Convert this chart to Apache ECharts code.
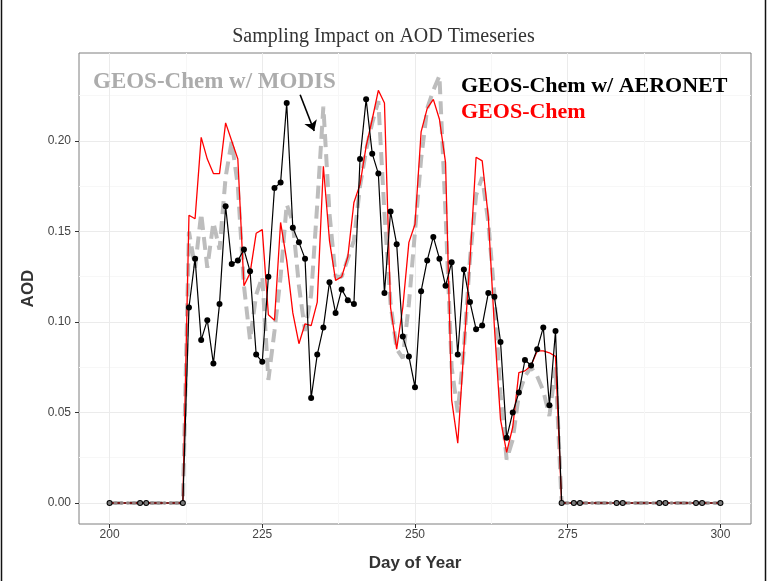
<!DOCTYPE html>
<html>
<head>
<meta charset="utf-8">
<script src="https://cdn.jsdelivr.net/npm/echarts@6/dist/echarts.min.js"></script>
<style>
  html, body { margin: 0; padding: 0; background: #fff; }
  #chart { width: 767px; height: 581px; }
</style>
</head>
<body>
<div id="chart"></div>
<script>
// days of the model runs (daily output)
var modelDays = [
  200,201,202,203,204,205,206,207,208,209,210,211,
  212,213,214,215,216,217,218,219,220,221,222,223,224,225,226,227,228,229,230,
  231,232,233,234,235,236,237,238,239,240,241,242,243,244,245,246,247,248,249,250,
  251,252,253,254,255,256,257,258,259,260,261,262,263,264,265,266,267,268,269,270,
  271,272,273,274,275,276,277,278,279,280,281,282,283,284,285,286,287,288,289,290,
  291,292,293,294,295,296,297,298,299,300
];
// GEOS-Chem (red)
var geosAod = [
  0,0,0,0,0,0,0,0,0,0,0,0,
  0,0.159,0.157,0.202,0.190,0.182,0.182,0.210,0.200,0.190,0.120,0.127,0.149,0.151,0.104,0.101,0.155,0.134,0.105,
  0.088,0.099,0.098,0.111,0.186,0.145,0.123,0.125,0.136,0.166,0.176,0.197,0.212,0.228,0.221,0.108,0.085,0.108,0.144,0.154,
  0.205,0.218,0.223,0.212,0.188,0.057,0.033,0.085,0.134,0.191,0.189,0.158,0.097,0.046,0.028,0.042,0.072,0.073,0.076,0.084,
  0.084,0.083,0.081,0,0,0,0,0,0,0,0,0,0,0,0,0,0,0,0,0,
  0,0,0,0,0,0,0,0,0,0
];
// GEOS-Chem sampled like MODIS (grey dashed)
var modisAod = [
  0,0,0,0,0,0,0,0,0,0,0,0,
  0,0.150,0.130,0.160,0.130,0.155,0.140,0.180,0.200,0.175,0.120,0.090,0.115,0.125,0.068,0.095,0.125,0.165,0.155,
  0.120,0.095,0.115,0.165,0.219,0.160,0.125,0.125,0.135,0.145,0.175,0.195,0.210,0.222,0.160,0.110,0.085,0.080,0.110,0.150,
  0.190,0.218,0.228,0.236,0.160,0.075,0.050,0.085,0.135,0.170,0.180,0.155,0.115,0.060,0.024,0.035,0.060,0.070,0.075,0.070,
  0.062,0.048,0.075,0,0,0,0,0,0,0,0,0,0,0,0,0,0,0,0,0,
  0,0,0,0,0,0,0,0,0,0
];
// GEOS-Chem sampled like AERONET (black, with points)
var aeronetDays = [
  200,205,206,
  212,213,214,215,216,217,218,219,220,221,222,223,224,225,226,227,228,229,230,
  231,232,233,234,235,236,237,238,239,240,241,242,243,244,245,246,247,248,249,250,
  251,252,253,254,255,256,257,258,259,260,261,262,263,264,265,266,267,268,269,270,
  271,272,273,274,
  276,277,283,284,290,291,296,297,300
];
var aeronetAod = [
  0,0,0,
  0,0.108,0.135,0.090,0.101,0.077,0.110,0.164,0.132,0.134,0.140,0.128,0.082,0.078,0.125,0.174,0.177,0.221,0.152,
  0.144,0.135,0.058,0.082,0.097,0.122,0.105,0.118,0.112,0.110,0.190,0.223,0.193,0.182,0.116,0.161,0.143,0.092,0.081,0.064,
  0.117,0.134,0.147,0.135,0.120,0.133,0.082,0.129,0.111,0.096,0.098,0.116,0.114,0.089,0.036,0.050,0.061,0.079,0.076,0.085,
  0.097,0.054,0.095,0,
  0,0,0,0,0,0,0,0,0
];
var xTicks = [200, 225, 250, 275, 300];
var xMinor = [212.5, 237.5, 262.5, 287.5];
var yTicks = [0, 0.05, 0.10, 0.15, 0.20];
var yMinor = [0.025, 0.075, 0.125, 0.175, 0.225];

function pairs(xs, ys) {
  return xs.map(function (x, i) { return [x, ys[i]]; });
}
var zeroModis = pairs(modelDays, modisAod).filter(function (p) { return p[1] === 0; });

var serif = '"Liberation Serif", "DejaVu Serif", serif';
var sans = '"Liberation Sans", Arial, sans-serif';

var chart = echarts.init(document.getElementById('chart'));
chart.setOption({
  animation: false,
  backgroundColor: '#fff',
  grid: {
    left: 79, right: 16, top: 53, bottom: 57,
    show: true, borderColor: '#7f7f7f', borderWidth: 1, backgroundColor: '#fff'
  },
  xAxis: [
    {
      type: 'value', min: 195, max: 305,
      name: 'Day of Year', nameLocation: 'middle', nameGap: 31,
      nameTextStyle: { fontFamily: sans, fontWeight: 'bold', fontSize: 17, color: '#333' },
      axisLine: { show: false, onZero: false },
      axisTick: { show: true, length: 4, customValues: xTicks, lineStyle: { color: '#333' } },
      axisLabel: { customValues: xTicks, fontFamily: sans, fontSize: 12, color: '#444', margin: 5 },
      splitLine: { show: true, lineStyle: { color: '#ebebeb', width: 1 } }
    },
    {
      type: 'value', min: 195, max: 305, position: 'top',
      axisLine: { show: false, onZero: false },
      axisTick: { show: false, customValues: xMinor },
      axisLabel: { show: false },
      splitLine: { show: true, lineStyle: { color: '#f7f7f7', width: 1 } }
    }
  ],
  yAxis: [
    {
      type: 'value', min: -0.0116, max: 0.2486,
      name: 'AOD', nameLocation: 'middle', nameGap: 38,
      nameTextStyle: { fontFamily: sans, fontWeight: 'bold', fontSize: 17, color: '#333' },
      axisLine: { show: false, onZero: false },
      axisTick: { show: true, length: 4, customValues: yTicks, lineStyle: { color: '#333' } },
      axisLabel: {
        customValues: yTicks, fontFamily: sans, fontSize: 12, color: '#444', margin: 8,
        formatter: function (v) { return v.toFixed(2); }
      },
      splitLine: { show: true, lineStyle: { color: '#ebebeb', width: 1 } }
    },
    {
      type: 'value', min: -0.0116, max: 0.2486, position: 'right',
      axisLine: { show: false, onZero: false },
      axisTick: { show: false, customValues: yMinor },
      axisLabel: { show: false },
      splitLine: { show: true, lineStyle: { color: '#f7f7f7', width: 1 } }
    }
  ],
  series: [
    {
      name: 'GEOS-Chem w/ MODIS', type: 'line', z: 2,
      data: pairs(modelDays, modisAod),
      showSymbol: false,
      lineStyle: { color: '#bdbdbd', width: 4, type: [13, 7] },
      markLine: {
        silent: true,
        symbol: ['none', 'arrow'], symbolSize: 10,
        label: { show: false },
        lineStyle: { color: '#000', width: 1.6, type: 'solid' },
        data: [[{ coord: [231.2, 0.2255] }, { coord: [233.5, 0.2055] }]]
      }
    },
    {
      name: 'GEOS-Chem', type: 'line', z: 3,
      data: pairs(modelDays, geosAod),
      showSymbol: false,
      lineStyle: { color: '#ff0000', width: 1.3 }
    },
    {
      name: 'GEOS-Chem w/ AERONET', type: 'line', z: 4,
      data: pairs(aeronetDays, aeronetAod),
      symbol: 'circle', symbolSize: 6,
      itemStyle: { color: '#000' },
      lineStyle: { color: '#000', width: 1.2 }
    },
    {
      name: 'MODIS zero days', type: 'scatter', z: 5,
      data: zeroModis,
      symbolSize: 4,
      itemStyle: { color: '#9a9a9a' }
    }
  ],
  graphic: [
    { type: 'text', left: 'center', top: 27, z: 100,
      style: { text: 'Sampling Impact on AOD Timeseries', font: 'normal 20px ' + serif, fill: '#333' } },
    { type: 'text', x: 93, y: 82, z: 100,
      style: { text: 'GEOS-Chem w/ MODIS', font: 'bold 23px ' + serif, fill: '#acacac', verticalAlign: 'middle' } },
    { type: 'text', x: 461, y: 86, z: 100,
      style: { text: 'GEOS-Chem w/ AERONET', font: 'bold 22px ' + serif, fill: '#000', verticalAlign: 'middle' } },
    { type: 'text', x: 461, y: 112, z: 100,
      style: { text: 'GEOS-Chem', font: 'bold 22px ' + serif, fill: '#ff0000', verticalAlign: 'middle' } },
    { type: 'line', z: 100, shape: { x1: 1.5, y1: 0, x2: 1.5, y2: 581 }, style: { stroke: '#111', lineWidth: 1.5 } },
    { type: 'line', z: 100, shape: { x1: 765.5, y1: 0, x2: 765.5, y2: 581 }, style: { stroke: '#111', lineWidth: 1.5 } }
  ]
});
</script>
</body>
</html>
